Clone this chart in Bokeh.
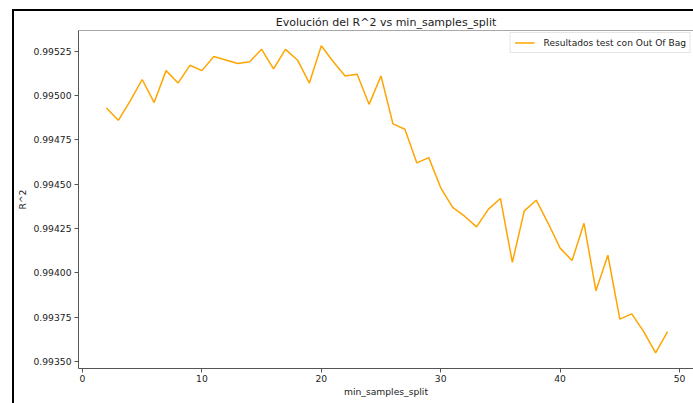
from bokeh.plotting import figure
from bokeh.models import (FixedTicker, PrintfTickFormatter, Span, Range1d, Legend, LegendItem)
from bokeh.embed import file_html
from bokeh.resources import INLINE

# ---- data ----
min_samples_split = [2, 3, 4, 5, 6, 7, 8, 9, 10, 11, 12, 13, 14, 15, 16, 17, 18, 19, 20, 21,
                     22, 23, 24, 25, 26, 27, 28, 29, 30, 31, 32, 33, 34, 35, 36, 37, 38, 39,
                     40, 41, 42, 43, 44, 45, 46, 47, 48, 49]
r2_oob = [0.99493, 0.99486, 0.99497, 0.99509, 0.99496, 0.99514, 0.99507, 0.99517, 0.99514,
          0.99522, 0.99520, 0.99518, 0.99519, 0.99526, 0.99515, 0.99526, 0.99520, 0.99507,
          0.99528, 0.99519, 0.99511, 0.99512, 0.99495, 0.99511, 0.99484, 0.99481, 0.99462,
          0.99465, 0.99448, 0.99437, 0.99432, 0.99426, 0.99436, 0.99442, 0.99406, 0.99435,
          0.99441, 0.99428, 0.99414, 0.99407, 0.99428, 0.99390, 0.99410, 0.99374, 0.99377,
          0.99367, 0.99355, 0.99367]
x_ticks = [0, 10, 20, 30, 40, 50]
y_ticks = [0.99350, 0.99375, 0.99400, 0.99425, 0.99450, 0.99475, 0.99500, 0.99525]
title_text = "Evolución del R^2 vs min_samples_split"
x_label = "min_samples_split"
y_label = "R^2"
legend_label = "Resultados test con Out Of Bag"

FONT = "DejaVu Sans"
TXT = "#222222"
SPINE = "#555555"

p = figure(width=693, height=403, output_backend="svg", toolbar_location=None,
           x_range=Range1d(-0.335, 51.17), y_range=Range1d(0.993462, 0.995366),
           min_border_left=78, min_border_top=30, min_border_bottom=35, min_border_right=0,
           background_fill_color="white", border_fill_alpha=0.0)
# black screenshot frame (left and top) drawn as element background behind a transparent border
p.styles = {"background": "linear-gradient(#000,#000) 12px 9px / 2px 394px no-repeat, "
                          "linear-gradient(#000,#000) 12px 9px / 681px 2px no-repeat, #ffffff"}

p.title.text = title_text
p.title.align = "center"
p.title.text_font = FONT
p.title.text_font_size = "11px"
p.title.text_font_style = "normal"
p.title.text_color = TXT
p.title.standoff = 4

p.grid.visible = False
p.outline_line_color = None

r = p.line(min_samples_split, r2_oob, line_color="orange", line_width=1.5)

# top spine
p.add_layout(Span(location=0.995366, dimension="width", line_color=SPINE, line_width=1))

for ax in (p.xaxis[0], p.yaxis[0]):
    ax.axis_line_color = SPINE
    ax.major_tick_line_color = SPINE
    ax.major_tick_out = 4
    ax.major_tick_in = 0
    ax.minor_tick_line_color = None
    ax.major_label_text_font = FONT
    ax.major_label_text_font_size = "9.2px"
    ax.major_label_text_color = TXT
    ax.axis_label_text_font = FONT
    ax.axis_label_text_font_size = "9.2px"
    ax.axis_label_text_font_style = "normal"
    ax.axis_label_text_color = TXT

p.xaxis[0].ticker = FixedTicker(ticks=x_ticks)
p.yaxis[0].ticker = FixedTicker(ticks=y_ticks)
p.yaxis[0].formatter = PrintfTickFormatter(format="%.5f")
p.xaxis[0].axis_label = x_label
p.yaxis[0].axis_label = y_label
p.xaxis[0].major_label_standoff = 2
p.xaxis[0].axis_label_standoff = 1
p.yaxis[0].major_label_standoff = 3
p.yaxis[0].axis_label_standoff = 3

legend = Legend(items=[LegendItem(label=legend_label, renderers=[r])],
                location="top_right", margin=2, padding=4, spacing=0,
                glyph_width=20, glyph_height=11, label_height=11, label_standoff=9,
                label_text_font=FONT, label_text_font_size="9.1px", label_text_color=TXT,
                border_line_color="#cccccc", border_line_width=1,
                background_fill_color="white", background_fill_alpha=0.8)
p.add_layout(legend)

open("out.html", "w").write(file_html(p, INLINE))
